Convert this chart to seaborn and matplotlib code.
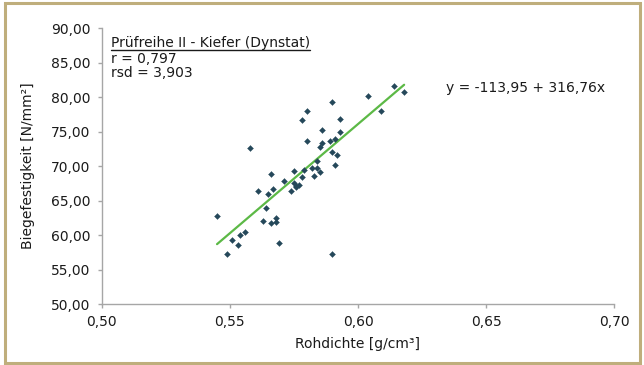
import matplotlib
matplotlib.use("Agg")
import matplotlib.pyplot as plt
from matplotlib.ticker import FuncFormatter
from matplotlib.patches import Rectangle
from matplotlib.lines import Line2D
import seaborn as sns
import pandas as pd
import numpy as np

# ---- data ----
rohdichte = [0.614, 0.618, 0.604, 0.609, 0.590, 0.580, 0.578, 0.593, 0.593, 0.586,
             0.580, 0.589, 0.591, 0.586, 0.585, 0.590, 0.592, 0.558, 0.584, 0.591,
             0.575, 0.579, 0.582, 0.584, 0.585, 0.583, 0.578, 0.566, 0.571, 0.575,
             0.577, 0.576, 0.576, 0.567, 0.561, 0.574, 0.565, 0.564, 0.545, 0.563,
             0.568, 0.568, 0.566, 0.556, 0.554, 0.551, 0.553, 0.569, 0.549, 0.590]
biegefestigkeit = [81.6, 80.7, 80.2, 78.0, 79.3, 78.0, 76.7, 76.9, 75.0, 75.2,
                   73.7, 73.7, 73.9, 73.3, 72.8, 72.1, 71.6, 72.6, 70.8, 70.2,
                   69.3, 69.5, 69.7, 69.8, 69.2, 68.6, 68.4, 68.8, 67.9, 67.6,
                   67.2, 67.1, 67.0, 66.7, 66.4, 66.4, 65.9, 63.9, 62.7, 62.1,
                   62.5, 61.9, 61.7, 60.4, 60.0, 59.3, 58.5, 58.8, 57.3, 57.3]
intercept = -113.95
slope = 316.76
title_lines = ["Prüfreihe II - Kiefer (Dynstat)", "r = 0,797", "rsd = 3,903"]
equation = "y = -113,95 + 316,76x"
x_ticks = [0.50, 0.55, 0.60, 0.65, 0.70]
y_ticks = [50, 55, 60, 65, 70, 75, 80, 85, 90]
x_label = "Rohdichte [g/cm³]"
y_label = "Biegefestigkeit [N/mm²]"

df = pd.DataFrame({"x": rohdichte, "y": biegefestigkeit})
x_line = [min(rohdichte), max(rohdichte)]
df_line = pd.DataFrame({"x": x_line, "y": [intercept + slope * v for v in x_line]})

sns.set_theme(style="white")
plt.rcParams['font.family'] = ['DejaVu Sans']
text_color = "#1a1a1a"
fs = 10

fig = plt.figure(figsize=(6.44, 3.65), dpi=100)
W, H = 644, 365
ax = fig.add_axes([101.7 / W, 1 - 304 / H, (614.3 - 101.7) / W, (304 - 28.3) / H])

sns.lineplot(data=df_line, x="x", y="y", ax=ax, color="#5cb946", linewidth=1.6)
sns.scatterplot(data=df, x="x", y="y", ax=ax, marker="D", s=9, color="#25485a",
                edgecolor="#25485a", linewidth=0.3, zorder=3)

ax.set_xlim(0.50, 0.70)
ax.set_ylim(50, 90)
ax.set_xticks(x_ticks)
ax.set_yticks(y_ticks)
fmt = FuncFormatter(lambda v, p: f"{v:.2f}".replace(".", ","))
ax.xaxis.set_major_formatter(fmt)
ax.yaxis.set_major_formatter(fmt)

for s in ["top", "right"]:
    ax.spines[s].set_visible(False)
for s in ["left", "bottom"]:
    ax.spines[s].set_color("#a6a6a6")
    ax.spines[s].set_linewidth(1.0)
ax.tick_params(axis="both", which="major", direction="out", length=3, width=1.0,
               color="#a6a6a6", labelsize=fs, labelcolor=text_color, pad=5)
ax.tick_params(axis="x", bottom=True)
ax.tick_params(axis="y", left=True)
ax.grid(False)

ax.set_xlabel(x_label, fontsize=fs, color=text_color)
ax.set_ylabel(y_label, fontsize=fs, color=text_color)
ax.xaxis.set_label_coords(0.5, -0.118)
ax.yaxis.set_label_coords(-0.130, 0.5)

# annotations
t0 = ax.text(0.0176, 0.9467, title_lines[0], transform=ax.transAxes, fontsize=fs,
             color=text_color, ha="left", va="center")
ax.text(0.0176, 0.8879, title_lines[1], transform=ax.transAxes, fontsize=fs,
        color=text_color, ha="left", va="center")
ax.text(0.0176, 0.8389, title_lines[2], transform=ax.transAxes, fontsize=fs,
        color=text_color, ha="left", va="center")
ax.text(0.671, 0.7846, equation, transform=ax.transAxes, fontsize=fs,
        color=text_color, ha="left", va="center")

# underline for the title line
fig.canvas.draw()
bb = t0.get_window_extent(renderer=fig.canvas.get_renderer())
y_ul = bb.y0 - 0.5
fig.add_artist(Line2D([bb.x0 / W, bb.x1 / W], [y_ul / H, y_ul / H],
                      transform=fig.transFigure, color=text_color, linewidth=1.0))

# frame around the figure
fig.add_artist(Rectangle((4.5 / W, 2.5 / H), (640 - 4.5) / W, (362.5 - 2.5) / H,
                         transform=fig.transFigure, fill=False,
                         edgecolor="#bfae7c", linewidth=2.2))

fig.savefig("out.png", dpi=100, facecolor="white")
